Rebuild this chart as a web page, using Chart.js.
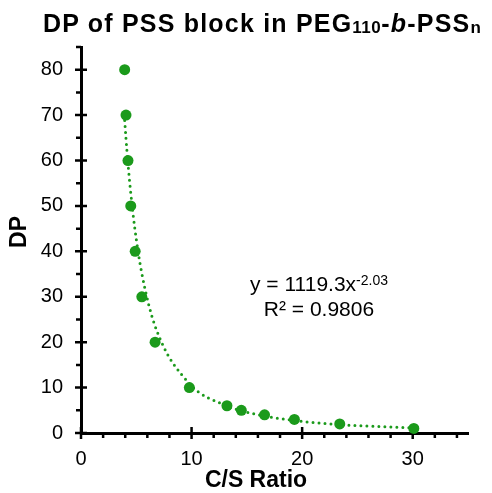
<!DOCTYPE html>
<html>
<head>
<meta charset="utf-8">
<title>DP of PSS block</title>
<script src="https://cdn.jsdelivr.net/npm/chart.js@4.4.1/dist/chart.umd.min.js"></script>
<style>
  html, body { margin: 0; padding: 0; background: #fff; overflow: hidden; }
  #wrap { position: relative; width: 492px; height: 493px; }
  #title {
    position: absolute; left: 43px; top: 10px;
    font: bold 25px "Liberation Sans", Arial, Helvetica, sans-serif;
    letter-spacing: 1.2px;
    line-height: 27px; color: #000; white-space: nowrap;
  }
  #title .s { font-size: 17px; letter-spacing: 0.5px; position: relative; top: 1px; }
</style>
</head>
<body>
<div id="wrap">
  <div id="title">DP of PSS block in PEG<span class="s">110</span>-<i>b</i>-PSS<span class="s">n</span></div>
  <canvas id="dpchart" width="492" height="493"></canvas>
</div>
<script>
// C/S ratio vs. degree of polymerisation of the PSS block
var csRatio = [3.95, 4.07, 4.25, 4.5, 4.9, 5.5, 6.7, 9.8, 13.2, 14.5, 16.6, 19.3, 23.4, 30.1];
var dpValues = [80, 70, 60, 50, 40, 30, 20, 10, 6, 5, 4, 3, 2, 1];

// power-law fit y = A * x^B
var fitA = 1119.3;
var fitB = -2.03;
var fitR2 = 0.9806;

var xTicks = [0, 10, 20, 30];
var yTicks = [0, 10, 20, 30, 40, 50, 60, 70, 80];

var green = '#1b9a1b';
var fontFamily = '"Liberation Sans", Arial, Helvetica, sans-serif';
Chart.defaults.font.family = fontFamily;
Chart.defaults.color = '#000';

// major ticks cross the axis, minor ticks stick out only
var axisTicks = {
  id: 'axisTicks',
  beforeDatasetsDraw: function(chart) {
    var ctx = chart.ctx, xs = chart.scales.x, ys = chart.scales.y;
    var area = chart.chartArea;
    ctx.save();
    ctx.strokeStyle = '#000';
    ctx.lineWidth = 2.5;
    ctx.beginPath();
    for (var v = 0; v <= 85; v += 5) {
      var py = ys.getPixelForValue(v);
      if (v % 10 === 0) {
        ctx.moveTo(area.left - 6, py); ctx.lineTo(area.left + 6, py);
      } else {
        ctx.moveTo(area.left - 5, py); ctx.lineTo(area.left, py);
      }
    }
    for (var u = 0; u <= 34; u += 2) {
      var px = xs.getPixelForValue(u);
      if (u % 10 === 0) {
        ctx.moveTo(px, area.bottom - 6); ctx.lineTo(px, area.bottom + 6);
      } else {
        ctx.moveTo(px, area.bottom); ctx.lineTo(px, area.bottom + 5);
      }
    }
    ctx.stroke();
    ctx.restore();
  }
};

// axis titles and the fit equation
var annotations = {
  id: 'annotations',
  afterDraw: function(chart) {
    var ctx = chart.ctx, area = chart.chartArea;
    ctx.save();
    ctx.fillStyle = '#000';
    ctx.textAlign = 'center';
    ctx.textBaseline = 'middle';

    ctx.font = 'bold 23px ' + fontFamily;
    ctx.fillText('C/S Ratio', area.left + 175, area.bottom + 48);

    ctx.save();
    ctx.translate(20, area.top + 185);
    ctx.rotate(-Math.PI / 2);
    ctx.font = 'bold 23px ' + fontFamily;
    ctx.fillText('DP', 0, 0);
    ctx.restore();

    // y = 1119.3x^-2.03
    var cx = area.left + 238;
    var base1 = area.top + 244;
    var main = 'y = ' + fitA.toFixed(1) + 'x';
    var sup = fitB.toFixed(2);
    ctx.textBaseline = 'alphabetic';
    ctx.textAlign = 'left';
    ctx.font = '21px ' + fontFamily;
    var w1 = ctx.measureText(main).width;
    ctx.font = '14px ' + fontFamily;
    var w2 = ctx.measureText(sup).width;
    var x0 = cx - (w1 + w2) / 2;
    ctx.font = '21px ' + fontFamily;
    ctx.fillText(main, x0, base1);
    ctx.font = '14px ' + fontFamily;
    ctx.fillText(sup, x0 + w1, base1 - 6);

    ctx.textAlign = 'center';
    ctx.font = '21px ' + fontFamily;
    ctx.fillText('R\u00b2 = ' + fitR2.toFixed(4), cx, base1 + 25);
    ctx.restore();
  }
};

var points = csRatio.map(function(x, i) { return { x: x, y: dpValues[i] }; });
var fitLine = csRatio.map(function(x) { return { x: x, y: fitA * Math.pow(x, fitB) }; });

var ctx = document.getElementById('dpchart').getContext('2d');
var dpChart = new Chart(ctx, {
  type: 'scatter',
  data: {
    datasets: [
      {
        label: 'DP',
        data: points,
        backgroundColor: green,
        borderColor: green,
        borderWidth: 0,
        pointRadius: 5.5,
        pointHoverRadius: 5.5,
        clip: false,
        order: 0
      },
      {
        label: 'Power fit',
        type: 'line',
        data: fitLine,
        borderColor: green,
        borderWidth: 3,
        borderDash: [0, 6],
        borderCapStyle: 'round',
        cubicInterpolationMode: 'monotone',
        pointRadius: 0,
        fill: false,
        order: 1
      }
    ]
  },
  options: {
    responsive: false,
    animation: false,
    events: [],
    layout: { padding: { top: 47, right: 24, left: 0, bottom: 0 } },
    plugins: {
      legend: { display: false },
      tooltip: { enabled: false }
    },
    scales: {
      x: {
        type: 'linear',
        min: 0,
        max: 35,
        afterBuildTicks: function(s) { s.ticks = xTicks.map(function(v) { return { value: v }; }); },
        afterFit: function(s) { s.height = 60; },
        grid: { display: false, drawTicks: false },
        border: { display: true, color: '#000', width: 3 },
        ticks: { color: '#000', font: { size: 20 }, padding: 14, maxRotation: 0 }
      },
      y: {
        type: 'linear',
        min: 0,
        max: 85,
        afterBuildTicks: function(s) { s.ticks = yTicks.map(function(v) { return { value: v }; }); },
        afterFit: function(s) { s.width = 81; },
        grid: { display: false, drawTicks: false },
        border: { display: true, color: '#000', width: 3 },
        ticks: { color: '#000', font: { size: 20 }, padding: 18 }
      }
    }
  },
  plugins: [axisTicks, annotations]
});
</script>
</body>
</html>
